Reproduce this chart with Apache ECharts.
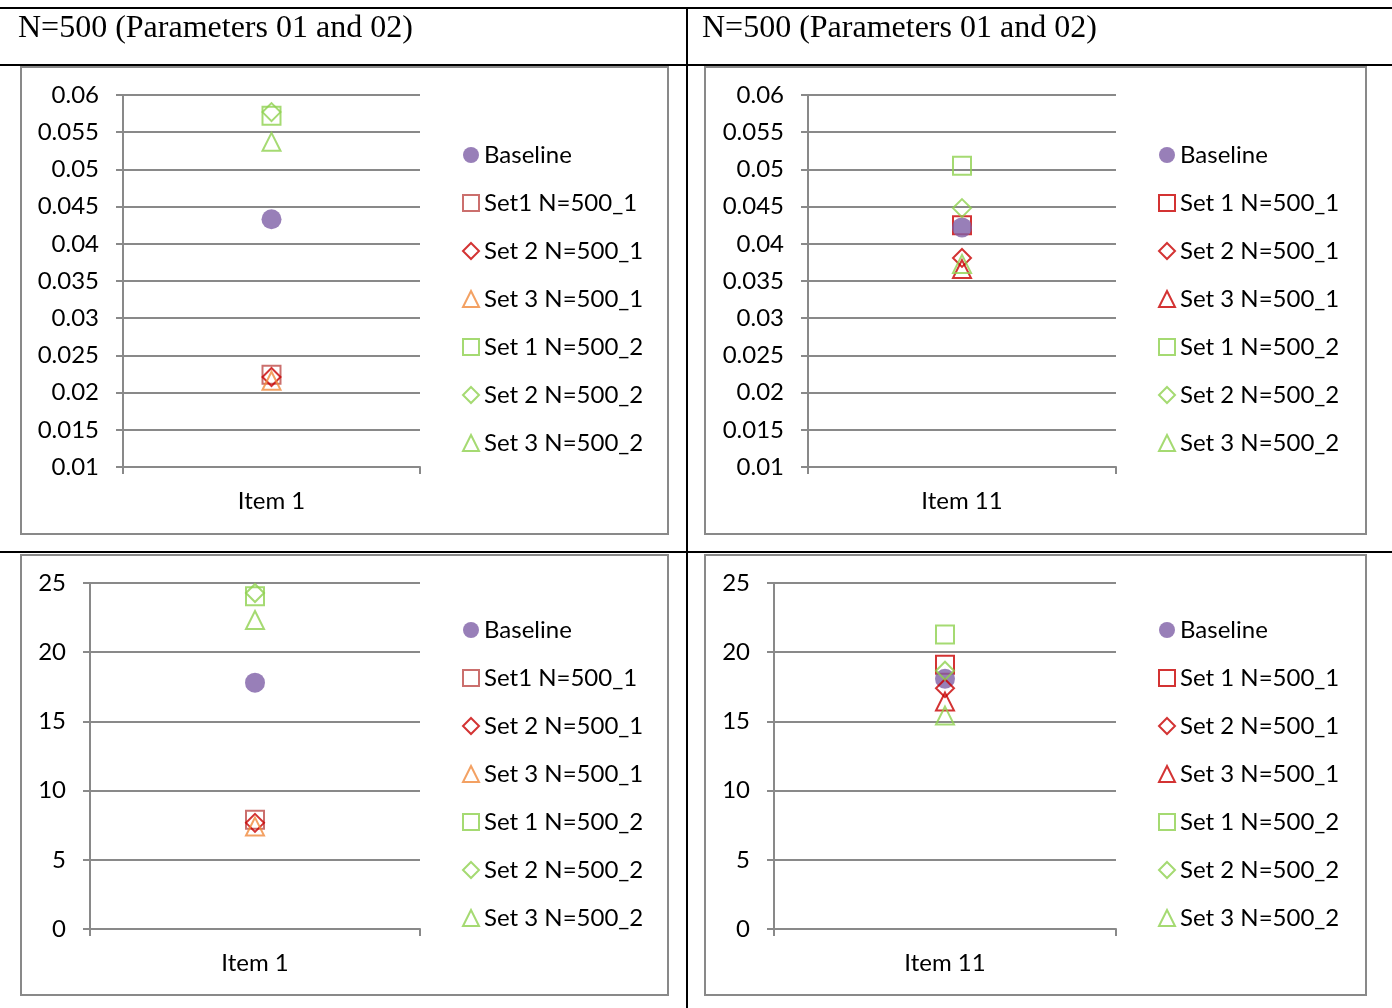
<!DOCTYPE html>
<html>
<head>
<meta charset="utf-8">
<script src="https://cdn.jsdelivr.net/npm/echarts/dist/echarts.min.js"></script>
<style>
html,body{margin:0;padding:0;background:#fff;}
#c{width:1392px;height:1008px;}
</style>
</head>
<body>
<div id="c"></div>
<script>
// ---------- data ----------
const titleText = 'N=500 (Parameters 01 and 02)';
const categoriesLeft = ['Item 1'];
const categoriesRight = ['Item 11'];
const seriesNamesLeft = ['Baseline', 'Set1 N=500_1', 'Set 2 N=500_1', 'Set 3 N=500_1', 'Set 1 N=500_2', 'Set 2 N=500_2', 'Set 3 N=500_2'];
const seriesNamesRight = ['Baseline', 'Set 1 N=500_1', 'Set 2 N=500_1', 'Set 3 N=500_1', 'Set 1 N=500_2', 'Set 2 N=500_2', 'Set 3 N=500_2'];
// values per series (in legend order) for each panel
const topLeftValues = [0.0433, 0.0224, 0.0221, 0.0216, 0.0572, 0.0577, 0.0537];
const topRightValues = [0.0422, 0.0425, 0.0381, 0.0366, 0.0505, 0.0448, 0.0373];
const bottomLeftValues = [17.8, 7.9, 7.67, 7.4, 24.05, 24.28, 22.33];
const bottomRightValues = [18.08, 19.1, 17.4, 16.43, 21.28, 18.66, 15.42];
const topAxis = {min: 0.01, max: 0.06, interval: 0.005};
const bottomAxis = {min: 0, max: 25, interval: 5};

// ---------- style ----------
const symbols = ['circle', 'rect', 'diamond', 'triangle', 'rect', 'diamond', 'triangle'];
const colorsLeft = ['#7E5FA6', '#BE4B48', '#C80000', '#F08A3C', '#8FD14F', '#8FD14F', '#8FD14F'];
const colorsRight = ['#7E5FA6', '#C80000', '#C80000', '#C80000', '#8FD14F', '#8FD14F', '#8FD14F'];
const drawOrder = [1, 0, 2, 3, 4, 5, 6];
const FONT = 'Lato';
const GRAY = '#898989';

const panels = [
  {grid: {left: 123, top: 95, width: 297, height: 372}, cats: categoriesLeft, names: seriesNamesLeft, colors: colorsLeft, values: topLeftValues, axis: topAxis, legend: {left: 462, top: 141}},
  {grid: {left: 808, top: 95, width: 308, height: 372}, cats: categoriesRight, names: seriesNamesRight, colors: colorsRight, values: topRightValues, axis: topAxis, legend: {left: 1158, top: 141}},
  {grid: {left: 90, top: 583, width: 330, height: 346}, cats: categoriesLeft, names: seriesNamesLeft, colors: colorsLeft, values: bottomLeftValues, axis: bottomAxis, legend: {left: 462, top: 616}},
  {grid: {left: 774, top: 583, width: 342, height: 346}, cats: categoriesRight, names: seriesNamesRight, colors: colorsRight, values: bottomRightValues, axis: bottomAxis, legend: {left: 1158, top: 616}}
];

function fmt(v) { return String(parseFloat(Number(v).toFixed(4))); }

function markerStyle(i, color) {
  if (symbols[i] === 'circle') return {color: color, borderWidth: 0};
  return {color: 'rgba(255,255,255,0)', borderColor: color, borderWidth: 2};
}

const grids = [], xAxes = [], yAxes = [], series = [], legends = [];
panels.forEach((p, gi) => {
  grids.push(Object.assign({}, p.grid));
  xAxes.push({
    type: 'category', gridIndex: gi, data: p.cats, boundaryGap: true,
    axisLine: {show: true, lineStyle: {color: GRAY, width: 2}},
    axisTick: {show: true, length: 7, alignWithLabel: false, lineStyle: {color: GRAY, width: 2}},
    axisLabel: {fontFamily: FONT, fontSize: 24, color: '#000', margin: 22},
    splitLine: {show: false}
  });
  yAxes.push({
    type: 'value', gridIndex: gi, min: p.axis.min, max: p.axis.max, interval: p.axis.interval,
    axisLine: {show: true, lineStyle: {color: GRAY, width: 2}},
    axisTick: {show: true, length: 7, lineStyle: {color: GRAY, width: 2}},
    splitLine: {show: true, lineStyle: {color: GRAY, width: 2}},
    axisLabel: {fontFamily: FONT, fontSize: 24, color: '#000', margin: 24, formatter: fmt}
  });
  drawOrder.forEach(i => {
    series.push({
      type: 'scatter', name: p.names[i], xAxisIndex: gi, yAxisIndex: gi,
      symbol: symbols[i], symbolSize: symbols[i] === 'circle' ? 20 : 18,
      itemStyle: markerStyle(i, p.colors[i]),
      data: [[p.cats[0], p.values[i]]],
      emphasis: {disabled: true}
    });
  });
  legends.push({
    orient: 'vertical', left: p.legend.left, top: p.legend.top, padding: 0,
    itemWidth: 16, itemHeight: 16, itemGap: 20, selectedMode: false,
    textStyle: {fontFamily: FONT, fontSize: 24, color: '#000', lineHeight: 28},
    data: p.names.map((n, i) => ({
      name: n, icon: symbols[i],
      itemStyle: markerStyle(i, p.colors[i])
    }))
  });
});

const graphics = [
  // chart boxes
  {type: 'rect', shape: {x: 21, y: 67, width: 647, height: 467}, style: {fill: 'none', stroke: GRAY, lineWidth: 2}, z: -1},
  {type: 'rect', shape: {x: 705, y: 67, width: 661, height: 467}, style: {fill: 'none', stroke: GRAY, lineWidth: 2}, z: -1},
  {type: 'rect', shape: {x: 21, y: 555, width: 647, height: 440}, style: {fill: 'none', stroke: GRAY, lineWidth: 2}, z: -1},
  {type: 'rect', shape: {x: 705, y: 555, width: 661, height: 440}, style: {fill: 'none', stroke: GRAY, lineWidth: 2}, z: -1},
  // table lines
  {type: 'line', shape: {x1: 0, y1: 8, x2: 1392, y2: 8}, style: {stroke: '#000', lineWidth: 2}},
  {type: 'line', shape: {x1: 0, y1: 65, x2: 1392, y2: 65}, style: {stroke: '#000', lineWidth: 2}},
  {type: 'line', shape: {x1: 0, y1: 552, x2: 1392, y2: 552}, style: {stroke: '#000', lineWidth: 2}},
  {type: 'line', shape: {x1: 687, y1: 8, x2: 687, y2: 1008}, style: {stroke: '#000', lineWidth: 2}},
  // titles
  {type: 'text', left: 18, top: 13, style: {text: titleText, font: '32px "Liberation Serif"', fill: '#000'}},
  {type: 'text', left: 702, top: 13, style: {text: titleText, font: '32px "Liberation Serif"', fill: '#000'}}
];

const chart = echarts.init(document.getElementById('c'), null, {renderer: 'canvas'});
chart.setOption({
  animation: false,
  backgroundColor: '#fff',
  grid: grids, xAxis: xAxes, yAxis: yAxes, series: series, legend: legends,
  graphic: graphics
});
</script>
</body>
</html>
